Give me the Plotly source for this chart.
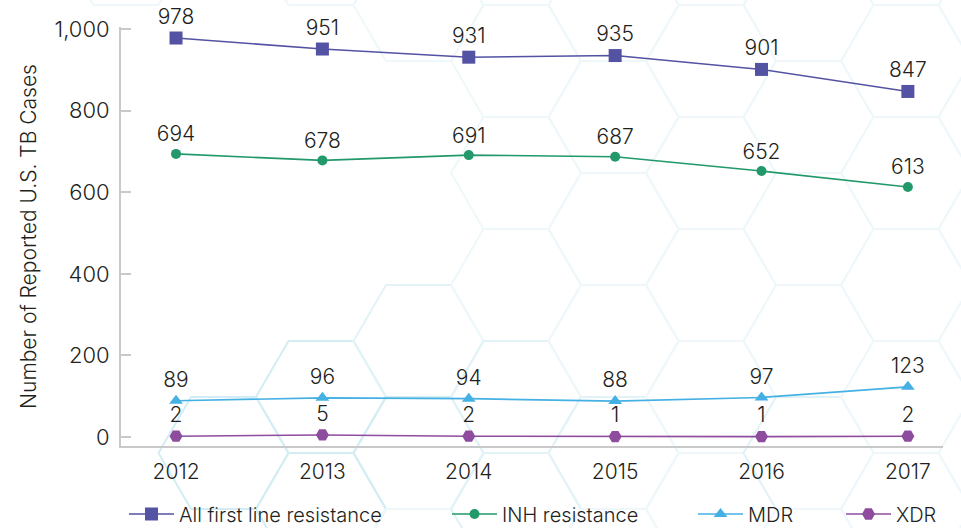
import plotly.graph_objects as go

# Reported drug-resistant TB cases in the U.S., by year
years = [2012, 2013, 2014, 2015, 2016, 2017]
all_first_line = [978, 951, 931, 935, 901, 847]
inh_resistance = [694, 678, 691, 687, 652, 613]
mdr = [89, 96, 94, 88, 97, 123]
xdr = [2, 5, 2, 1, 1, 2]
y_ticks = [0, 200, 400, 600, 800, 1000]

series_names = ["All first line resistance", "INH resistance", "MDR", "XDR"]
series_values = [all_first_line, inh_resistance, mdr, xdr]
series_colors = ["#5352a3", "#21996b", "#45b0e3", "#8d4c9e"]
series_symbols = ["square", "circle", "triangle-up", "hexagon2"]
series_sizes = [13, 10, 12, 13]

FONT = "Inter"
WEIGHT = 300
TEXT = "#231f20"
AXIS = "#c9c9c9"

W, H = 961, 528
L, R, T, B = 121, 943, 27, 446  # plot area in pixels


def px_to_paper(x, y):
    return (x - L) / (R - L), (B - y) / (B - T)


def hex_path(cx, cy, s=65.0, h=56.0):
    pts = [(cx + s, cy), (cx + s / 2, cy - h), (cx - s / 2, cy - h),
           (cx - s, cy), (cx - s / 2, cy + h), (cx + s / 2, cy + h)]
    out = []
    for i, (x, y) in enumerate(pts):
        px, py = px_to_paper(x, y)
        out.append(("M" if i == 0 else "L") + f"{px:.5f},{py:.5f}")
    return " ".join(out) + " Z"


# faint honeycomb backdrop
hidden = {(-5, 5), (-5, 117), (-5, 229), (-5, 341),
          (-4, 61), (-4, 173), (-4, 285), (-3, 117), (-3, 229)}
strong = {(-5, 453), (-4, 397), (-4, 509), (-3, 453)}
medium = {(-3, 341), (-2, 397), (-2, 509), (1, 453), (-1, 453)}

shapes = []
for k in range(-6, 4):
    cx = 711 + 97.5 * k
    base = 285 + 56 * k
    for m in range(-4, 5):
        cy = base + 112 * m
        if cy < -60 or cy > 600:
            continue
        cyi = int(round(cy))
        if k == -6 and cyi != -51:
            continue
        if (k, cyi) in hidden:
            continue
        if (k, cyi) in strong:
            col = "#d3edf5"
        elif (k, cyi) in medium:
            col = "#e2f3f8"
        else:
            col = "#eef8fb"
        shapes.append(dict(type="path", xref="paper", yref="paper",
                           path=hex_path(cx, cy), layer="below",
                           line=dict(color=col, width=2)))

fig = go.Figure()
legend_ids = ["legend", "legend2", "legend3", "legend4"]
for name, vals, col, sym, size, lg in zip(series_names, series_values, series_colors,
                                           series_symbols, series_sizes, legend_ids):
    fig.add_trace(go.Scatter(
        x=years, y=vals, name=name, mode="lines+markers+text",
        text=[str(v) for v in vals], textposition="top center",
        textfont=dict(family=FONT, size=21, color=TEXT, weight=WEIGHT),
        line=dict(color=col, width=1.6),
        marker=dict(symbol=sym, size=size, color=col, line=dict(width=0)),
        cliponaxis=False, legend=lg,
    ))

# one legend per series, laid out in a row beneath the axis
legend_x_px = [124, 447, 693, 841]
legend_common = dict(orientation="h", yanchor="middle", xanchor="left",
                     xref="container", yref="container", itemwidth=45,
                     font=dict(family=FONT, size=20, color=TEXT, weight=WEIGHT),
                     bgcolor="rgba(0,0,0,0)", borderwidth=0)
layout_legends = {}
for lg, xp in zip(legend_ids, legend_x_px):
    layout_legends[lg] = dict(x=xp / W, y=(H - 514) / H, **legend_common)

fig.update_layout(
    width=W, height=H,
    margin=dict(l=L, r=W - R, t=T, b=H - B, pad=0, autoexpand=False),
    paper_bgcolor="white", plot_bgcolor="rgba(0,0,0,0)",
    font=dict(family=FONT, color=TEXT),
    shapes=shapes,
    showlegend=True,
    **layout_legends,
    xaxis=dict(
        range=[2011.624, 2017.24], tickvals=years, ticktext=[str(y) for y in years],
        showgrid=False, zeroline=False, showline=True, linecolor=AXIS, linewidth=2,
        ticks="", tickfont=dict(family=FONT, size=21, color=TEXT, weight=WEIGHT),
        ticklabelstandoff=6, automargin=False,
    ),
    yaxis=dict(
        range=[-22, 1005], tickvals=y_ticks, tickformat=",",
        showgrid=False, zeroline=False, showline=True, linecolor=AXIS, linewidth=2,
        ticks="inside", ticklen=10, tickwidth=1.5, tickcolor=AXIS,
        tickfont=dict(family=FONT, size=22, color=TEXT, weight=WEIGHT),
        ticklabelstandoff=5, automargin=False,
        title=dict(text="Number of Reported U.S. TB Cases",
                   font=dict(family=FONT, size=21, color=TEXT, weight=WEIGHT),
                   standoff=12),
    ),
)

fig.write_html("out.html")
